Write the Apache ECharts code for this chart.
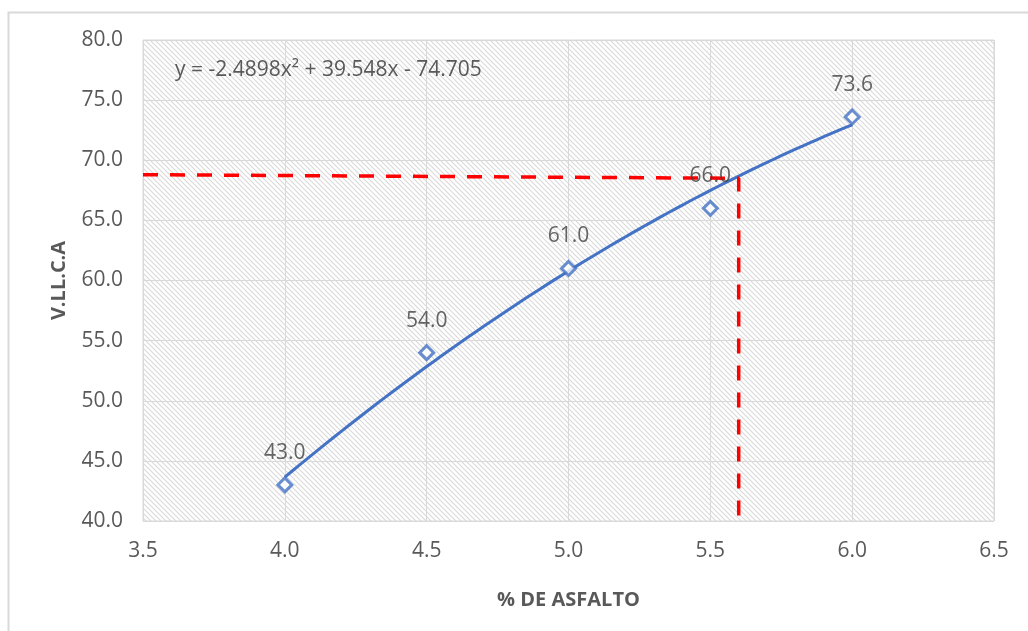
<!DOCTYPE html>
<html>
<head>
<meta charset="utf-8">
<script src="https://cdn.jsdelivr.net/npm/echarts@6/dist/echarts.min.js"></script>
<style>
  html, body { margin: 0; padding: 0; background: #ffffff; }
  #chart { width: 1028px; height: 631px; }
</style>
</head>
<body>
<div id="chart"></div>
<script>
// Asphalt content (%) vs V.LL.C.A measured values
const asphaltPct = [4.0, 4.5, 5.0, 5.5, 6.0];
const vllcaValues = [43.0, 54.0, 61.0, 66.0, 73.6];

// Polynomial trend: y = a x^2 + b x + c
const trendCoef = [-2.4898, 39.548, -74.705];
const trendRange = [4.0, 6.0];

// Design reading lines (asphalt % → V.LL.C.A)
const guideLine = [[3.5, 68.8], [5.6, 68.5], [5.6, 40.0]];

const xTicks = { min: 3.5, max: 6.5, step: 0.5 };
const yTicks = { min: 40, max: 80, step: 5 };

const equationText = 'y = -2.4898x² + 39.548x - 74.705';

// Trend curve sampled along the stated equation
const trendPoints = [];
for (let i = 0; i <= 80; i++) {
  const x = trendRange[0] + (trendRange[1] - trendRange[0]) * i / 80;
  trendPoints.push([x, trendCoef[0] * x * x + trendCoef[1] * x + trendCoef[2]]);
}

// Diagonal hatch fill for the plot area
function hatchPattern() {
  const s = 5;
  const c = document.createElement('canvas');
  c.width = s; c.height = s;
  const g = c.getContext('2d');
  g.fillStyle = '#ffffff';
  g.fillRect(0, 0, s, s);
  g.strokeStyle = '#d9d9d9';
  g.lineWidth = 1.1;
  g.beginPath();
  g.moveTo(-1, -1); g.lineTo(s + 1, s + 1);
  g.moveTo(-1, s - 1); g.lineTo(1, s + 1);
  g.moveTo(s - 1, -1); g.lineTo(s + 1, 1);
  g.stroke();
  return c;
}

const FONT = '"Open Sans", "Liberation Sans", sans-serif';
const chart = echarts.init(document.getElementById('chart'), null, { renderer: 'canvas' });

chart.setOption({
  backgroundColor: '#ffffff',
  animation: false,
  grid: {
    left: 143, top: 40, right: 34, bottom: 110,
    show: true,
    backgroundColor: { image: hatchPattern(), repeat: 'repeat' },
    borderColor: '#d9d9d9',
    borderWidth: 1
  },
  graphic: [
    {
      type: 'rect',
      left: 6, top: 10,
      shape: { width: 1100, height: 700 },
      style: { fill: 'none', stroke: '#d9d9d9', lineWidth: 2 },
      silent: true
    },
    {
      type: 'text',
      left: 175, top: 60,
      z: 10,
      style: { text: equationText, font: '21px ' + FONT, fill: '#595959' }
    }
  ],
  xAxis: {
    type: 'value',
    min: xTicks.min, max: xTicks.max, interval: xTicks.step,
    name: '% DE ASFALTO',
    nameLocation: 'middle',
    nameGap: 69,
    nameTextStyle: { fontFamily: FONT, fontSize: 20, fontWeight: 'bold', color: '#595959' },
    axisLine: { show: false },
    axisTick: { show: false },
    axisLabel: { fontFamily: FONT, fontSize: 21, color: '#595959', margin: 20,
      formatter: v => v.toFixed(1) },
    splitLine: { show: true, lineStyle: { color: '#d9d9d9', width: 1 } }
  },
  yAxis: {
    type: 'value',
    min: yTicks.min, max: yTicks.max, interval: yTicks.step,
    name: 'V.LL.C.A',
    nameLocation: 'middle',
    nameGap: 74,
    nameRotate: 90,
    nameTextStyle: { fontFamily: FONT, fontSize: 20, fontWeight: 'bold', color: '#595959' },
    axisLine: { show: false },
    axisTick: { show: false },
    axisLabel: { fontFamily: FONT, fontSize: 21, color: '#595959', margin: 20,
      formatter: v => v.toFixed(1) },
    splitLine: { show: true, lineStyle: { color: '#d9d9d9', width: 1 } }
  },
  series: [
    {
      name: 'Tendencia',
      type: 'line',
      data: trendPoints,
      showSymbol: false,
      symbol: 'none',
      smooth: false,
      lineStyle: { color: '#4472c4', width: 3 },
      z: 3
    },
    {
      name: 'Lectura',
      type: 'line',
      data: guideLine,
      symbol: 'none',
      lineStyle: { color: '#ff0000', width: 3.5, type: [15, 12] },
      z: 4
    },
    {
      name: 'V.LL.C.A',
      type: 'scatter',
      data: asphaltPct.map((x, i) => [x, vllcaValues[i]]),
      symbol: 'diamond',
      symbolSize: 14,
      itemStyle: { color: '#ffffff', borderColor: '#4472c4', borderWidth: 3 },
      label: {
        show: true,
        position: 'top',
        distance: 13,
        fontFamily: FONT,
        fontSize: 21,
        color: '#404040',
        formatter: p => p.value[1].toFixed(1)
      },
      z: 5
    }
  ]
});
</script>
</body>
</html>
